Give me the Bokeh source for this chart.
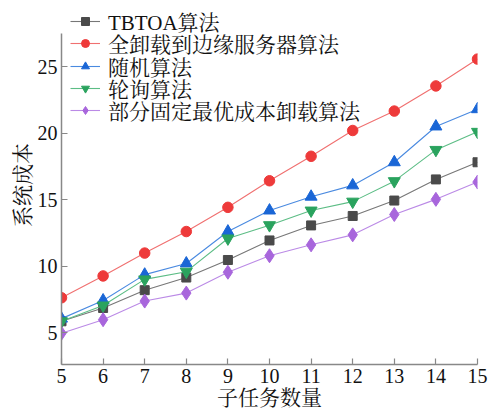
from bokeh.plotting import figure
from bokeh.models import Range1d, FixedTicker, Legend, LegendItem
from bokeh.embed import file_html
from bokeh.resources import INLINE

x = [5, 6, 7, 8, 9, 10, 11, 12, 13, 14, 15]
tbtoa = [5.85, 6.85, 8.19, 9.14, 10.46, 11.93, 13.06, 13.77, 14.93, 16.52, 17.81]
full_offload = [7.62, 9.26, 10.98, 12.6, 14.42, 16.42, 18.26, 20.2, 21.66, 23.55, 25.57]
random_alg = [6.05, 7.42, 9.36, 10.2, 12.6, 14.18, 15.22, 16.07, 17.81, 20.5, 21.8]
round_robin = [5.85, 7.04, 9.0, 9.58, 12.08, 13.08, 14.18, 14.85, 16.39, 18.74, 20.1]
partial_fixed = [4.95, 5.97, 7.37, 7.97, 9.54, 10.78, 11.6, 12.35, 13.88, 15.02, 16.32]

names = ["TBTOA算法", "全卸载到边缘服务器算法", "随机算法", "轮询算法", "部分固定最优成本卸载算法"]
x_ticks = [5, 6, 7, 8, 9, 10, 11, 12, 13, 14, 15]
y_ticks = [5, 10, 15, 20, 25]

FONT = "Liberation Serif, Times New Roman, Noto Serif CJK SC, Noto Sans CJK SC, serif"

p = figure(width=492, height=412, output_backend="svg", toolbar_location=None,
           x_range=Range1d(5, 15), y_range=Range1d(2.6, 29.6),
           min_border_left=61, min_border_right=15, min_border_top=5, min_border_bottom=46)
p.outline_line_color = None
p.grid.visible = False
p.background_fill_color = "white"
p.border_fill_color = "white"

for ax in (p.xaxis[0], p.yaxis[0]):
    ax.axis_line_color = "#888888"
    ax.axis_line_width = 1.5
    ax.major_tick_line_color = "#888888"
    ax.major_tick_line_width = 1.2
    ax.major_tick_in = 6
    ax.major_tick_out = 0
    ax.minor_tick_line_color = None
    ax.major_label_text_font = FONT
    ax.major_label_text_font_size = "20px"
    ax.major_label_text_color = "#111111"
    ax.axis_label_text_font = FONT
    ax.axis_label_text_font_size = "21px"
    ax.axis_label_text_font_style = "normal"
    ax.axis_label_text_color = "#111111"

p.yaxis[0].bounds = (2.6, 27.5)
p.xaxis[0].ticker = FixedTicker(ticks=x_ticks)
p.yaxis[0].ticker = FixedTicker(ticks=y_ticks)
p.xaxis[0].axis_label = "子任务数量"
p.yaxis[0].axis_label = "系统成本"
p.xaxis[0].major_label_standoff = 4
p.xaxis[0].axis_label_standoff = 0
p.yaxis[0].major_label_standoff = 4
p.yaxis[0].axis_label_standoff = 0

series = [
    (tbtoa, "#4a4a4a", "#777777", "square", 9),
    (full_offload, "#ee3a3a", "#f07070", "circle", 10.5),
    (random_alg, "#1a66d6", "#4a8ae0", "triangle", 12),
    (round_robin, "#2aa35e", "#5cbd85", "inverted_triangle", 12),
    (partial_fixed, "#a866dc", "#bb8ae6", "diamond", 14),
]

legend_bottoms = [328, 306, 283, 261, 239]
for (vals, mcol, lcol, marker, size), name, lb in zip(series, names, legend_bottoms):
    r1 = p.line(x, vals, line_color=lcol, line_width=1.1)
    r2 = p.scatter(x, vals, marker=marker, size=size,
                   fill_color=mcol, line_color=mcol)
    lg = Legend(items=[LegendItem(label=name, renderers=[r1, r2])], location=(9, lb),
                spacing=0, padding=0, margin=0,
                glyph_width=30, glyph_height=20, label_standoff=8,
                label_text_font=FONT, label_text_font_size="21px",
                label_text_color="#111111", label_height=20,
                background_fill_alpha=0, border_line_color=None)
    p.add_layout(lg, "center")

open("out.html", "w").write(file_html(p, INLINE))
